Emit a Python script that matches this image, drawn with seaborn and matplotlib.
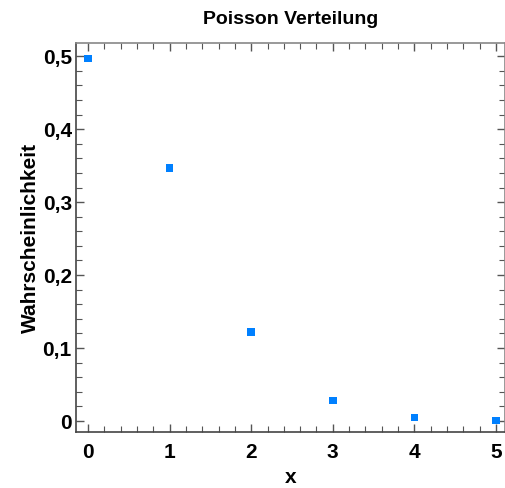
import matplotlib
matplotlib.use("Agg")
import matplotlib.pyplot as plt
import seaborn as sns
import pandas as pd
from matplotlib.ticker import MultipleLocator, FuncFormatter

x_vals = [0, 1, 2, 3, 4, 5]
prob = [0.497, 0.347, 0.122, 0.028, 0.005, 0.001]

sns.set_theme(style="white")
plt.rcParams["font.family"] = ["Liberation Sans", "DejaVu Sans"]
plt.rcParams["text.color"] = "black"
plt.rcParams["axes.labelcolor"] = "black"

df = pd.DataFrame({"x": x_vals, "p": prob})

fig = plt.figure(figsize=(5.06, 4.88), dpi=100)
ax = fig.add_axes([76 / 506, 1 - 432 / 488, (505 - 76) / 506, (432 - 43) / 488])

sns.scatterplot(data=df, x="x", y="p", ax=ax, marker="s", s=30,
                color="#0080ff", edgecolor="none", legend=False)

ax.set_xlim(-0.147, 5.11)
ax.set_ylim(-0.015, 0.518)
ax.xaxis.set_major_locator(MultipleLocator(1))
ax.xaxis.set_minor_locator(MultipleLocator(0.2))
ax.yaxis.set_major_locator(MultipleLocator(0.1))
ax.yaxis.set_minor_locator(MultipleLocator(0.02))
ax.yaxis.set_major_formatter(FuncFormatter(
    lambda v, _: "0" if abs(v) < 1e-9 else f"{v:.1f}".replace(".", ",")))

ax.tick_params(which="both", direction="in", top=True, right=True,
               bottom=True, left=True, colors="#555555", labelcolor="black")
ax.tick_params(which="major", length=6, width=1, labelsize=15)
ax.tick_params(which="minor", length=4, width=0.8)
for lbl in ax.get_xticklabels() + ax.get_yticklabels():
    lbl.set_fontweight("bold")
ax.tick_params(axis="x", pad=8)
ax.tick_params(axis="y", pad=3)

for side, sp in ax.spines.items():
    sp.set_color("#444444" if side in ("left", "bottom") else "#888888")
    sp.set_linewidth(1.2)

ax.set_xlabel("x", fontsize=15, fontweight="bold", labelpad=4)
ax.set_ylabel("Wahrscheinlichkeit", fontsize=15, fontweight="bold", labelpad=2)
ax.set_title("Poisson Verteilung", fontsize=14, fontweight="bold", pad=14)

fig.savefig("out.png", dpi=100)
